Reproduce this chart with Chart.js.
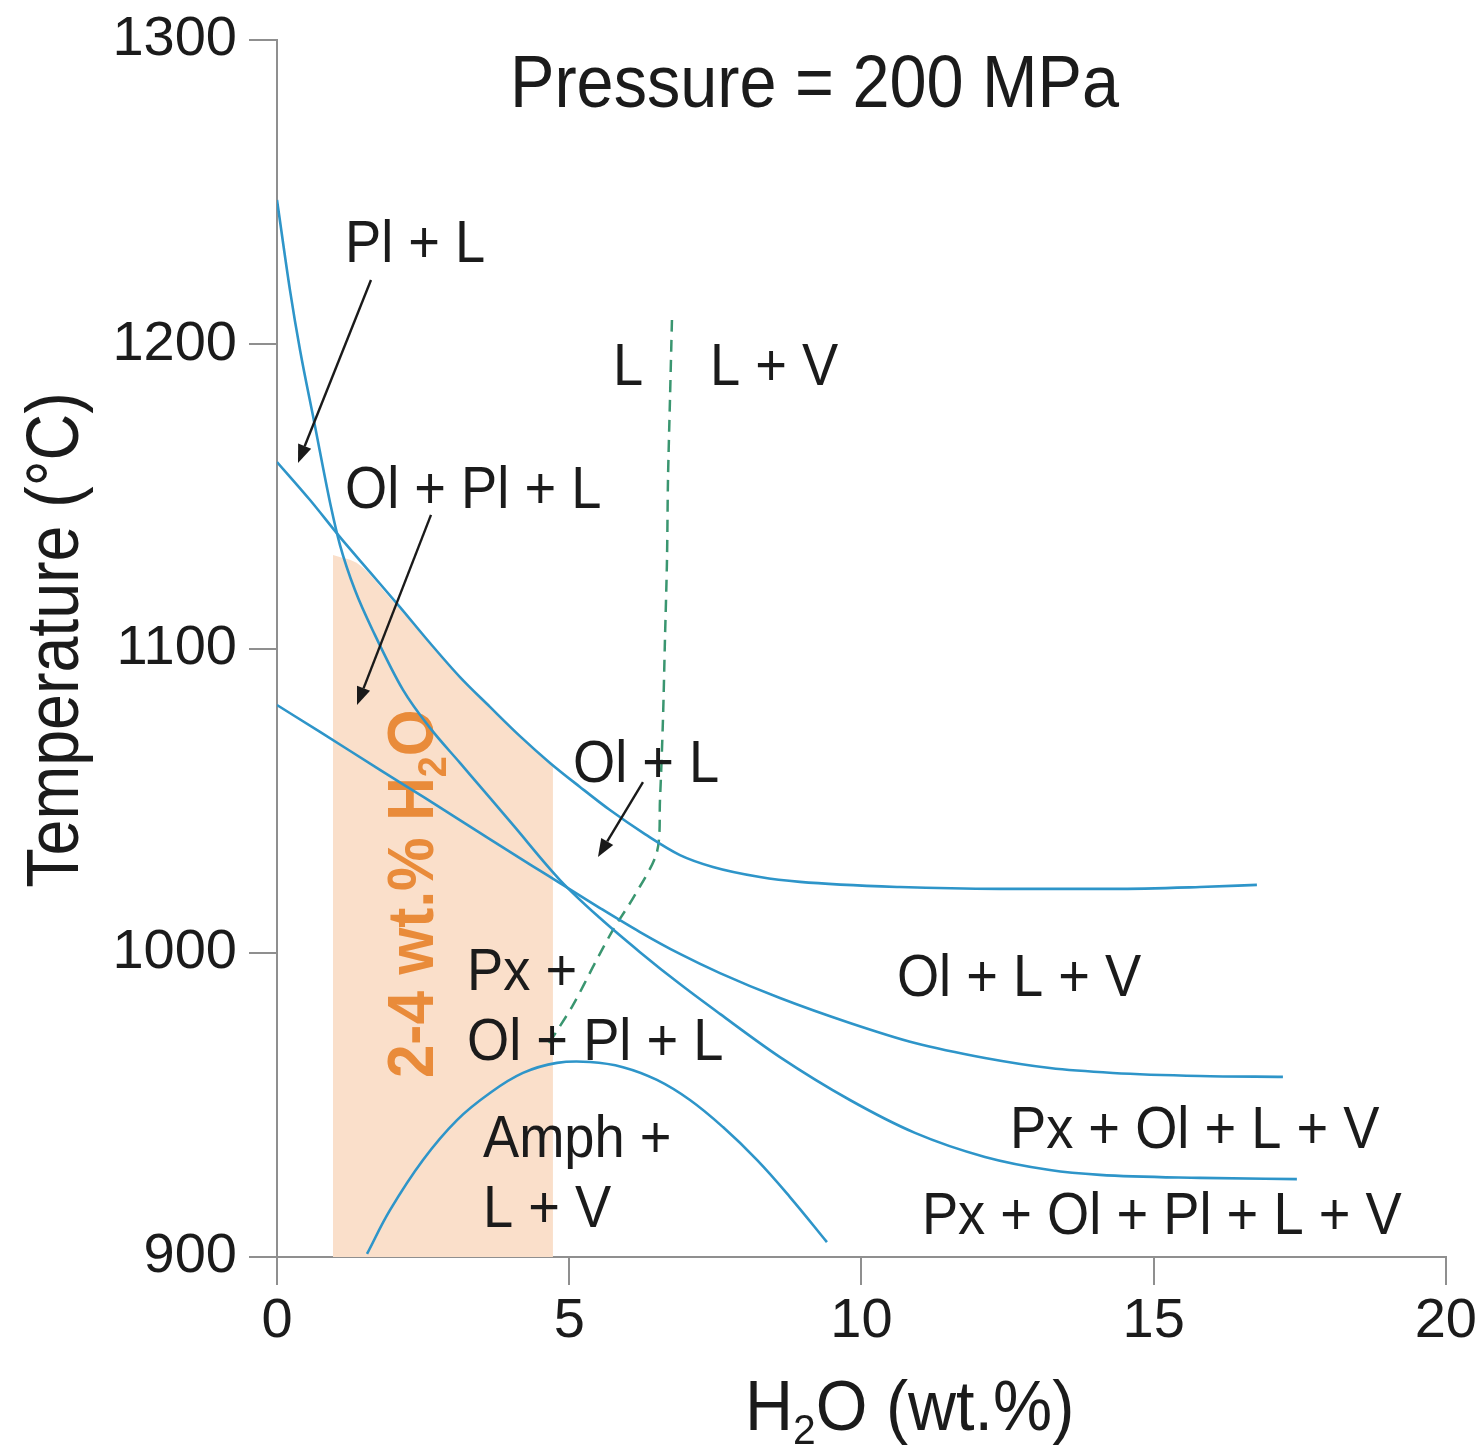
<!DOCTYPE html>
<html>
<head>
<meta charset="utf-8">
<script src="https://cdn.jsdelivr.net/npm/chart.js@4.4.1/dist/chart.umd.min.js"></script>
<style>
  html, body { margin: 0; padding: 0; background: #ffffff; }
  #wrap { width: 1480px; height: 1455px; position: relative; }
  canvas { display: block; }
</style>
</head>
<body>
<div id="wrap"><canvas id="chart" width="1480" height="1455"></canvas></div>
<script>
// ---------------- data (H2O wt.% , temperature °C) ----------------
// Pl-out boundary (steep curve from the T axis at ~1247 °C)
const plCurveX = [0, 0.222, 0.394, 0.633, 0.924, 1.078, 1.334, 1.677, 2.156, 2.618, 3.131, 3.644, 4.038, 4.842, 5.526, 6.211, 6.895, 7.579, 8.606, 9.803, 10.916, 12.113, 13.225, 14.081, 15.792, 17.451];
const plCurveY = [1247.4, 1217.8, 1198.1, 1174.8, 1146.5, 1134.0, 1119.2, 1104.4, 1086.4, 1073.9, 1062.4, 1050.9, 1042.0, 1023.9, 1011.4, 1000.2, 989.7, 979.9, 965.7, 951.6, 940.8, 932.9, 928.6, 927.0, 926.0, 925.6];
// Ol-in boundary (liquidus)
const olCurveX = [0, 0.565, 1.078, 1.591, 2.104, 2.618, 3.131, 3.644, 4.157, 4.671, 5.184, 5.697, 6.296, 6.895, 7.459, 8.264, 8.948, 10.659, 12.370, 14.303, 15.792, 16.767];
const olCurveY = [1161.3, 1148.8, 1136.6, 1125.1, 1113.6, 1101.8, 1090.6, 1080.8, 1071.2, 1062.4, 1054.5, 1046.9, 1039.0, 1032.1, 1028.2, 1024.9, 1023.3, 1021.6, 1021.0, 1021.0, 1021.6, 1022.3];
// Px-in boundary
const pxCurveX = [0, 0.736, 1.762, 2.532, 3.473, 4.346, 4.842, 5.526, 6.211, 6.895, 7.579, 8.606, 9.803, 10.916, 12.113, 13.225, 14.303, 15.792, 17.212];
const pxCurveY = [1081.4, 1072.6, 1060.1, 1050.9, 1039.4, 1028.8, 1022.9, 1014.7, 1006.8, 999.6, 993.3, 985.1, 976.9, 970.3, 965.4, 962.1, 960.5, 959.5, 959.2];
// Amphibole stability dome
const amphCurveX = [1.540, 1.933, 2.498, 3.080, 3.644, 4.209, 4.791, 5.355, 5.920, 6.501, 7.066, 7.631, 8.212, 8.777, 9.410];
const amphCurveY = [901.0, 915.4, 931.9, 945.0, 953.9, 960.5, 963.8, 964.1, 962.4, 958.2, 951.6, 942.7, 931.9, 919.7, 904.9];
// H2O saturation (dashed)
const satCurveX = [6.758, 6.724, 6.690, 6.673, 6.638, 6.604, 6.553, 6.501, 6.125, 5.749, 5.441, 5.064, 4.637];
const satCurveY = [1208.0, 1181.7, 1155.4, 1129.1, 1102.8, 1076.5, 1050.2, 1033.1, 1019.0, 1007.5, 996.6, 982.8, 969.7];
// 2-4 wt.% H2O shaded band (upper edge)
const bandX = [0.958, 1.420, 1.933, 2.447, 2.960, 3.473, 3.986, 4.722];
const bandTopY = [1130.7, 1127.4, 1116.6, 1105.4, 1094.2, 1084.1, 1074.5, 1061.4];

// tick values
const xTickValues = [0, 5, 10, 15, 20];
const yTickValues = [900, 1000, 1100, 1200, 1300];

// phase-field labels (left end, baseline) in data units
const fieldLabels = ['Pl + L', 'L', 'L + V', 'Ol + Pl + L', 'Ol + L', 'Px +', 'Ol + Pl + L', 'Amph +', 'L + V', 'Ol + L + V', 'Px + Ol + L + V', 'Px + Ol + Pl + L + V'];
const fieldLabelX = [1.163, 5.749, 7.408, 1.163, 5.064, 3.251, 3.251, 3.524, 3.524, 10.607, 12.541, 11.035];
const fieldLabelY = [1227.0, 1186.6, 1186.6, 1146.2, 1056.1, 987.8, 964.7, 932.9, 909.9, 985.8, 935.8, 907.6];

// pointer arrows (from label to field)
const arrowFromX = [1.608, 2.635, 6.262];
const arrowFromY = [1221.1, 1143.9, 1056.1];
const arrowToX = [0.359, 1.369, 5.492];
const arrowToY = [1161.0, 1081.4, 1031.5];

// ---------------- styling ----------------
const FONT = "'Liberation Sans', Arial, Helvetica, sans-serif";
const BLUE = '#2e95c9';
const GREEN = '#3a9670';
const ORANGE = '#e98b3a';
const BAND = 'rgb(250, 223, 202)';
const AXIS = '#8f8f8f';
const INK = '#1b1b1b';

const pts = (xs, ys) => xs.map((x, i) => ({ x: x, y: ys[i] }));

function drawParts(ctx, parts, x, y, opt) {
  ctx.save();
  ctx.translate(x, y);
  if (opt.rot) ctx.rotate(opt.rot);
  ctx.scale(opt.sx || 1, 1);
  ctx.fillStyle = opt.color || INK;
  ctx.textBaseline = 'alphabetic';
  ctx.textAlign = 'left';
  const main = (opt.weight ? opt.weight + ' ' : '') + opt.size + 'px ' + FONT;
  const sub = (opt.weight ? opt.weight + ' ' : '') + Math.round(opt.size * 0.62) + 'px ' + FONT;
  let total = 0;
  parts.forEach(p => { ctx.font = p[1] ? sub : main; total += ctx.measureText(p[0]).width; });
  let cx = opt.align === 'center' ? -total / 2 : 0;
  parts.forEach(p => {
    ctx.font = p[1] ? sub : main;
    ctx.fillText(p[0], cx, p[1] ? opt.size * 0.2 : 0);
    cx += ctx.measureText(p[0]).width;
  });
  ctx.restore();
}

function drawArrow(ctx, x1, y1, x2, y2) {
  const ang = Math.atan2(y2 - y1, x2 - x1);
  const hl = 18, hw = 7;
  const bx = x2 - hl * Math.cos(ang), by = y2 - hl * Math.sin(ang);
  ctx.save();
  ctx.strokeStyle = '#1a1a1a';
  ctx.fillStyle = '#1a1a1a';
  ctx.lineWidth = 2.4;
  ctx.beginPath(); ctx.moveTo(x1, y1); ctx.lineTo(bx, by); ctx.stroke();
  ctx.beginPath();
  ctx.moveTo(x2, y2);
  ctx.lineTo(bx + hw * Math.sin(ang), by - hw * Math.cos(ang));
  ctx.lineTo(bx - hw * Math.sin(ang), by + hw * Math.cos(ang));
  ctx.closePath(); ctx.fill();
  ctx.restore();
}

const annotate = {
  id: 'annotate',
  afterDatasetDraw(chart, args) {
    const ds = chart.data.datasets[args.index];
    if (ds.label !== 'band') return;
    const { ctx, scales } = chart;
    const px = scales.x.getPixelForValue(2.669);
    const py = scales.y.getPixelForValue(958.8);
    drawParts(ctx, [['2-4 wt.% H', false], ['2', true], ['O', false]], px, py,
      { size: 64, weight: 'bold', sx: 0.94, rot: -Math.PI / 2, color: ORANGE });
  },
  afterDraw(chart) {
    const { ctx, scales } = chart;
    const X = v => scales.x.getPixelForValue(v);
    const Y = v => scales.y.getPixelForValue(v);
    fieldLabels.forEach((t, i) => {
      drawParts(ctx, [[t, false]], X(fieldLabelX[i]), Y(fieldLabelY[i]), { size: 59, sx: 0.92 });
    });
    arrowFromX.forEach((v, i) => {
      drawArrow(ctx, X(v), Y(arrowFromY[i]), X(arrowToX[i]), Y(arrowToY[i]));
    });
    drawParts(ctx, [['Pressure = 200 MPa', false]], 510, 107, { size: 74, sx: 0.9 });
    drawParts(ctx, [['H', false], ['2', true], ['O (wt.%)', false]], 745, 1430, { size: 70, sx: 0.95 });
    drawParts(ctx, [['Temperature (°C)', false]], 78, 640, { size: 75, sx: 0.86, rot: -Math.PI / 2, align: 'center' });
  }
};

const curve = (xs, ys, extra) => Object.assign({
  data: pts(xs, ys),
  borderColor: BLUE,
  borderWidth: 2.6,
  pointRadius: 0,
  fill: false,
  tension: 0.4,
  cubicInterpolationMode: 'monotone',
  order: 1
}, extra || {});

new Chart(document.getElementById('chart'), {
  type: 'line',
  data: {
    datasets: [
      curve(plCurveX, plCurveY, { label: 'Pl boundary' }),
      curve(olCurveX, olCurveY, { label: 'Ol boundary' }),
      curve(pxCurveX, pxCurveY, { label: 'Px boundary' }),
      curve(amphCurveX, amphCurveY, { label: 'Amph boundary', cubicInterpolationMode: 'default', tension: 0.4 }),
      {
        label: 'H2O saturation',
        data: pts(satCurveX, satCurveY),
        borderColor: GREEN,
        borderWidth: 2.5,
        borderDash: [12, 8],
        pointRadius: 0,
        fill: false,
        tension: 0.3,
        order: 1
      },
      {
        label: 'band',
        data: pts(bandX, bandTopY),
        borderWidth: 0,
        borderColor: 'rgba(0,0,0,0)',
        backgroundColor: BAND,
        pointRadius: 0,
        fill: 'start',
        tension: 0.4,
        cubicInterpolationMode: 'monotone',
        order: 10
      }
    ]
  },
  options: {
    responsive: false,
    animation: false,
    devicePixelRatio: 1,
    layout: { padding: { top: 40, right: 34, left: 0, bottom: 0 } },
    plugins: { legend: { display: false }, tooltip: { enabled: false }, title: { display: false } },
    scales: {
      x: {
        type: 'linear',
        min: 0, max: 20,
        afterBuildTicks(s) { s.ticks = xTickValues.map(v => ({ value: v })); },
        afterFit(s) { s.height = 198; },
        ticks: {
          color: INK, font: { family: FONT, size: 56 }, padding: 3, maxRotation: 0, autoSkip: false,
          callback: v => String(v)
        },
        grid: { drawOnChartArea: false, drawTicks: true, tickLength: 28, color: AXIS, lineWidth: 2 },
        border: { display: true, color: AXIS, width: 2 }
      },
      y: {
        type: 'linear',
        min: 900, max: 1300,
        afterBuildTicks(s) { s.ticks = yTickValues.map(v => ({ value: v })); },
        afterFit(s) { s.width = 277; },
        ticks: {
          color: INK, font: { family: FONT, size: 56, lineHeight: 1.0 }, padding: 12, autoSkip: false,
          callback: v => String(v)
        },
        grid: { drawOnChartArea: false, drawTicks: true, tickLength: 28, color: AXIS, lineWidth: 2 },
        border: { display: true, color: AXIS, width: 2 }
      }
    }
  },
  plugins: [annotate]
});
</script>
</body>
</html>
